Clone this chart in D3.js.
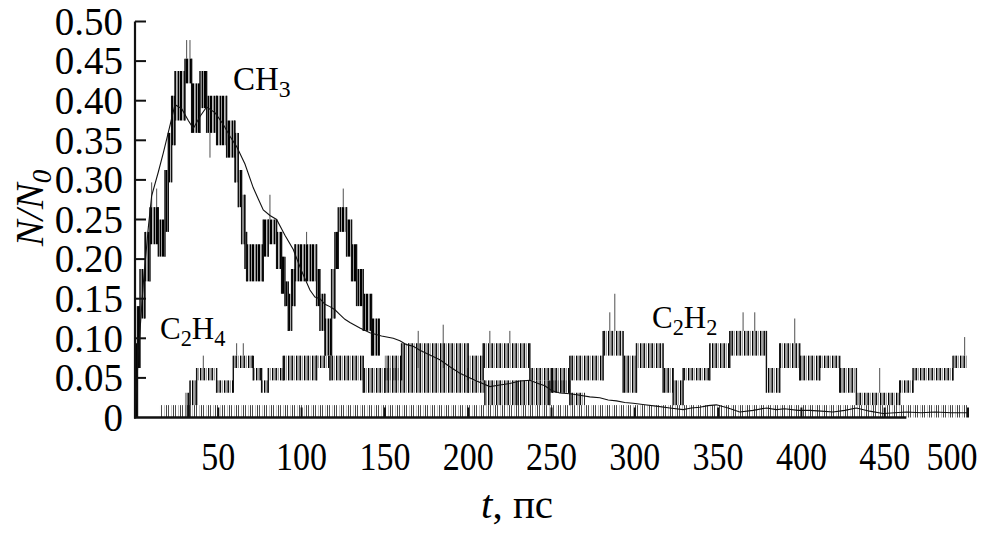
<!DOCTYPE html>
<html>
<head>
<meta charset="utf-8">
<script src="https://cdn.jsdelivr.net/npm/d3@7"></script>
<style>
	body { margin: 0; background: #fff; }
	svg { display: block; font-family: 'Liberation Serif', 'Times New Roman', serif; }
</style>
</head>
<body>
<svg></svg>
<script>
// N0 = 64, noisy counts are drawn as bands between lo and hi counts
const N0 = 64;

// CH3 noisy run: breakpoints (ps), then lo / hi counts per interval
const ch3T = [0, 1.5, 3, 6, 9, 14, 18, 20, 22, 24, 30, 34, 39, 43, 49, 55, 60, 62, 64, 66,
	67, 77, 80, 85, 88, 90, 92, 94, 96, 109, 111, 114, 118, 120, 122, 127, 130, 133, 137, 142, 147];
const ch3Lo = [0, 4, 8, 11, 14, 13, 15, 19, 22, 24, 27, 23, 25, 23, 22, 21, 19, 17, 14, 12,
	11, 13, 14, 12, 10, 9, 7, 9, 11, 9, 7, 5, 8, 12, 15, 13, 11, 9, 7, 5];
const ch3Hi = [6, 9, 12, 15, 17, 16, 20, 23, 26, 28, 29, 27, 28, 26, 26, 24, 23, 20, 18, 15,
	14, 16, 16, 15, 13, 11, 10, 12, 14, 12, 10, 8, 12, 15, 17, 16, 14, 12, 10, 8];
const ch3Spikes = [[10, 19], [13, 18.5], [31, 30.5], [33, 30.5], [45, 21], [81, 18], [94, 7], [103, 15], [125, 18.5]];

// C2H4 noisy run
const c2h4T = [30, 33, 37, 49, 59, 71, 76, 80, 89, 109, 117, 137, 150, 200, 210, 230, 249, 261, 270];
const c2h4Lo = [0, 1, 3, 2, 4, 3, 2, 3, 3, 4, 3, 2, 2, 2, 1, 1, 2, 1];
const c2h4Hi = [2, 3, 4, 3, 5, 4, 3, 4, 5, 5, 5, 4, 4, 3, 3, 3, 3, 2];
const c2h4Spikes = [[41, 5], [61, 6], [65, 6], [170, 7], [185, 7.5]];

// C2H2 noisy run
const c2h2T = [150, 160, 200, 209, 237, 250, 261, 281, 293, 301, 317, 323, 329, 345, 357, 379,
	387, 399, 411, 423, 433, 459, 467, 491, 500];
const c2h2Lo = [3, 4, 3, 4, 3, 2, 3, 5, 2, 4, 2, 1, 3, 4, 5, 2, 4, 3, 4, 2, 1, 2, 3, 4];
const c2h2Hi = [5, 6, 5, 6, 4, 4, 5, 7, 5, 6, 4, 3, 4, 6, 7, 4, 6, 5, 5, 4, 2, 3, 4, 5];
const c2h2Spikes = [[213, 7], [225, 7], [285, 8.5], [288, 10], [365, 8.5], [372, 8.5], [396, 8], [447, 4], [498, 6.5]];

// single-molecule flicker near zero
const baseT = [15, 500];
const baseLo = [0];
const baseHi = [1];

// averaged CH3 curve
const smoothT = [0, 2, 5, 8, 10, 14, 17, 20, 24, 28, 32, 35, 39, 43, 48, 53, 57, 61, 66, 71,
	74, 77, 81, 85, 90, 95, 100, 105, 108, 111, 114, 117, 120, 123, 126, 129, 135, 141, 148, 155,
	159, 163, 167, 171, 177, 183, 189, 195, 204, 213, 219, 225, 231, 237, 242, 246, 250, 255, 261,
	267, 273, 279, 284, 289, 294, 299, 306, 314, 321, 329, 334, 339, 344, 349, 356, 363, 371, 379,
	385, 390, 398, 405, 412, 419, 426, 433, 441, 449, 456, 463, 472, 480, 490, 500];
const smoothN = [0, 0.08, 0.17, 0.24, 0.28, 0.31, 0.334, 0.36, 0.395, 0.39, 0.375, 0.365, 0.38,
	0.392, 0.385, 0.37, 0.355, 0.342, 0.32, 0.29, 0.276, 0.262, 0.255, 0.25, 0.23, 0.212, 0.185,
	0.161, 0.152, 0.15, 0.143, 0.14, 0.136, 0.13, 0.124, 0.12, 0.113, 0.107, 0.103, 0.1, 0.097,
	0.092, 0.09, 0.085, 0.079, 0.073, 0.064, 0.056, 0.047, 0.039, 0.041, 0.043, 0.046, 0.047,
	0.043, 0.04, 0.034, 0.031, 0.03, 0.028, 0.026, 0.025, 0.022, 0.021, 0.019, 0.018, 0.016, 0.014,
	0.012, 0.01, 0.012, 0.013, 0.015, 0.016, 0.012, 0.007, 0.009, 0.012, 0.01, 0.011, 0.009, 0.009,
	0.008, 0.007, 0.009, 0.012, 0.008, 0.005, 0.006, 0.007, 0.006, 0.007, 0.006, 0.006];

const xTicks = [50, 100, 150, 200, 250, 300, 350, 400, 450, 500];
const yTicks = [0, 0.05, 0.1, 0.15, 0.2, 0.25, 0.3, 0.35, 0.4, 0.45, 0.5];

const width = 988;
const height = 533;

const x = d3.scaleLinear().domain([0, 500]).range([135, 968]);
const y = d3.scaleLinear().domain([0, 0.5]).range([417.5, 21.5]);
const yc = (c) => y(c / N0);

const svg = d3.select('svg')
	.attr('width', width)
	.attr('height', height)
	.attr('viewBox', [0, 0, width, height]);

svg.append('rect').attr('width', width).attr('height', height).attr('fill', '#fff');

// barcode-like fills for the noisy bands
const defs = svg.append('defs');
const patterns = {
	dense: { w: 6, bars: [[0, 2, '#000'], [2.6, 0.6, '#555'], [3.6, 1.8, '#000']] },
	light: { w: 8, bars: [[0, 1.4, '#000'], [2.2, 0.6, '#666'], [3.4, 1.6, '#111'], [5.8, 0.7, '#444']] },
	hair: { w: 7, bars: [[0, 0.8, '#222'], [3, 0.5, '#888'], [5, 1, '#444']] }
};
Object.entries(patterns).forEach(([id, p]) => {
	const pat = defs.append('pattern')
		.attr('id', id)
		.attr('patternUnits', 'userSpaceOnUse')
		.attr('width', p.w)
		.attr('height', 10);
	pat.selectAll('rect')
		.data(p.bars)
		.enter()
			.append('rect')
			.attr('x', d => d[0])
			.attr('width', d => d[1])
			.attr('height', 10)
			.attr('fill', d => d[2]);
});

function drawBand(T, lo, hi, spikes, fill) {
	const g = svg.append('g');
	const segs = lo.map((l, i) => ({ t0: T[i], t1: T[i + 1], lo: l, hi: hi[i] }));

	g.selectAll('rect')
		.data(segs)
		.enter()
			.append('rect')
			.attr('x', d => x(d.t0))
			.attr('width', d => x(d.t1) - x(d.t0))
			.attr('y', d => yc(d.hi))
			.attr('height', d => yc(d.lo) - yc(d.hi))
			.attr('fill', 'url(#' + fill + ')');

	// steps between intervals
	g.selectAll('line.step')
		.data(segs.slice(1).map((d, i) => ({ t: d.t0, a: Math.min(d.lo, segs[i].lo), b: Math.max(d.hi, segs[i].hi) })))
		.enter()
			.append('line')
			.attr('class', 'step')
			.attr('x1', d => x(d.t))
			.attr('x2', d => x(d.t))
			.attr('y1', d => yc(d.a))
			.attr('y2', d => yc(d.b))
			.attr('stroke', '#111')
			.attr('stroke-width', 1.4);

	// odd excursions outside the band
	g.selectAll('line.spike')
		.data(spikes.map(s => {
			const seg = segs.find(d => s[0] >= d.t0 && s[0] < d.t1) || segs[segs.length - 1];
			return { t: s[0], v: s[1], edge: s[1] > seg.hi ? seg.hi : seg.lo };
		}))
		.enter()
			.append('line')
			.attr('class', 'spike')
			.attr('x1', d => x(d.t))
			.attr('x2', d => x(d.t))
			.attr('y1', d => yc(d.edge))
			.attr('y2', d => yc(d.v))
			.attr('stroke', '#222')
			.attr('stroke-width', 0.8);
}

drawBand(baseT, baseLo, baseHi, [], 'hair');
drawBand(c2h4T, c2h4Lo, c2h4Hi, c2h4Spikes, 'light');
drawBand(c2h2T, c2h2Lo, c2h2Hi, c2h2Spikes, 'light');
drawBand(ch3T, ch3Lo, ch3Hi, ch3Spikes, 'dense');

const line = d3.line()
	.x((d, i) => x(smoothT[i]))
	.y(d => y(d));

svg.append('path')
	.datum(smoothN)
	.attr('d', line)
	.attr('fill', 'none')
	.attr('stroke', '#111')
	.attr('stroke-width', 1.1);

// axes
const axis = svg.append('g').attr('stroke', '#111');
axis.append('line')
	.attr('x1', x(0)).attr('x2', x(0))
	.attr('y1', y(0.5)).attr('y2', y(0) + 1)
	.attr('stroke-width', 2.2);
axis.append('line')
	.attr('x1', x(0) - 1).attr('x2', x(463))
	.attr('y1', y(0)).attr('y2', y(0))
	.attr('stroke-width', 2.5);

axis.selectAll('line.yt')
	.data(yTicks.slice(1))
	.enter()
		.append('line')
		.attr('class', 'yt')
		.attr('x1', x(0)).attr('x2', x(0) + 11)
		.attr('y1', d => y(d)).attr('y2', d => y(d))
		.attr('stroke-width', 2);

axis.selectAll('line.xt')
	.data(xTicks)
	.enter()
		.append('line')
		.attr('class', 'xt')
		.attr('x1', d => x(d)).attr('x2', d => x(d))
		.attr('y1', y(0)).attr('y2', y(0) - 10)
		.attr('stroke-width', 2);

const fmtY = (d) => d === 0 ? '0' : d3.format('.2f')(d);

svg.append('g')
	.selectAll('text')
	.data(yTicks)
	.enter()
		.append('text')
		.attr('x', 123)
		.attr('y', d => y(d))
		.attr('dy', '0.34em')
		.attr('text-anchor', 'end')
		.attr('font-size', 39)
		.text(fmtY);

// x tick labels are set a little condensed; the last one is pulled in to fit
svg.append('g')
	.selectAll('text')
	.data(xTicks)
	.enter()
		.append('text')
		.attr('transform', d => 'translate(' + Math.min(x(d), 952) + ',470) scale(0.85,1)')
		.attr('text-anchor', 'middle')
		.attr('font-size', 40)
		.text(d => d);

// titles
const xt = svg.append('text')
	.attr('x', 517)
	.attr('y', 518)
	.attr('text-anchor', 'middle')
	.attr('font-size', 41);
xt.append('tspan').attr('font-style', 'italic').text('t');
xt.append('tspan').text(', пс');

const yt = svg.append('text')
	.attr('transform', 'translate(43,208) rotate(-90)')
	.attr('text-anchor', 'middle')
	.attr('font-size', 39)
	.attr('font-style', 'italic');
yt.append('tspan').text('N/N');
yt.append('tspan').attr('font-size', 27).attr('dy', 8).text('0');

function label(parts, px, py, size) {
	const t = svg.append('text')
		.attr('x', px)
		.attr('y', py)
		.attr('font-size', size);
	parts.forEach((p, i) => {
		const s = t.append('tspan').text(p);
		if (i % 2 === 1) s.attr('font-size', size * 0.72).attr('dy', size * 0.22);
		else if (i > 0) s.attr('dy', -size * 0.22);
	});
}

label(['CH', '3'], 233, 90, 33);
label(['C', '2', 'H', '4'], 160, 339, 31);
label(['C', '2', 'H', '2'], 652, 328, 31);
</script>
</body>
</html>
